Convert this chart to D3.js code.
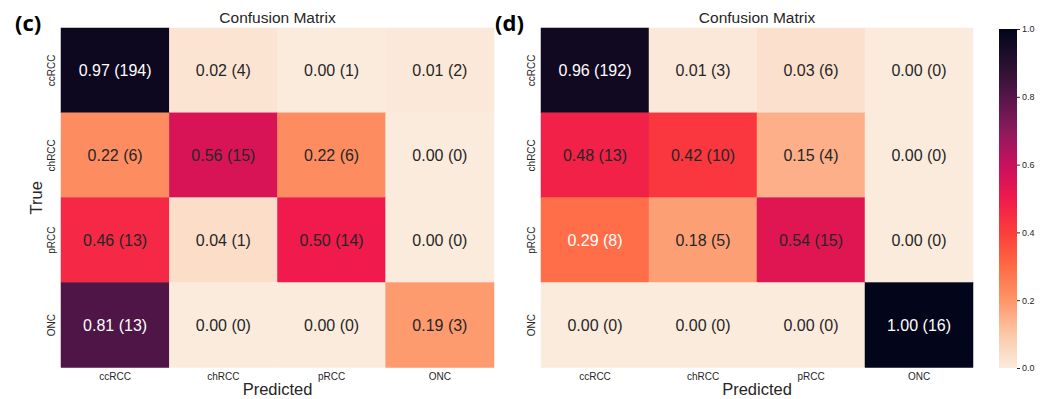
<!DOCTYPE html>
<html>
<head>
<meta charset="utf-8">
<script src="https://cdn.jsdelivr.net/npm/d3@7"></script>
<style>
  body { margin: 0; background: #fff; }
  svg text { font-family: "Liberation Sans", Arial, sans-serif; }
</style>
</head>
<body>
<div id="chart"></div>
<script>
const width = 1047;
const height = 399;
const FONT = "'Liberation Sans', Arial, sans-serif";

const classes = ["ccRCC", "chRCC", "pRCC", "ONC"];

// panel (c)
const ratesC = [
  [0.97, 0.02, 0.00, 0.01],
  [0.22, 0.56, 0.22, 0.00],
  [0.46, 0.04, 0.50, 0.00],
  [0.81, 0.00, 0.00, 0.19]
];
const countsC = [
  [194, 4, 1, 2],
  [6, 15, 6, 0],
  [13, 1, 14, 0],
  [13, 0, 0, 3]
];

// panel (d)
const ratesD = [
  [0.96, 0.01, 0.03, 0.00],
  [0.48, 0.42, 0.15, 0.00],
  [0.29, 0.18, 0.54, 0.00],
  [0.00, 0.00, 0.00, 1.00]
];
const countsD = [
  [192, 3, 6, 0],
  [13, 10, 4, 0],
  [8, 5, 15, 0],
  [0, 0, 0, 16]
];

const colorbarTicks = [0, 0.2, 0.4, 0.6, 0.8, 1.0];

// rocket_r, tuned to the colours seen in the picture
const rocketR = ["#fbebdd", "#fbc8a8", "#fd9568", "#ff6a44", "#fc3d3a", "#f01a4c",
                 "#c8105e", "#8c1a5c", "#541649", "#25102f", "#03051a"];
const color = d3.scaleSequential(d3.piecewise(d3.interpolateRgb, rocketR)).domain([0, 1]);

// the original draws this one light label although the cell is mid-tone
const lightLabels = new Set(["d|pRCC|ccRCC"]);

const svg = d3.select("#chart").append("svg")
  .attr("width", width)
  .attr("height", height);

function drawPanel(key, left, right, label, rates, counts, showYLabel) {
  const top = 28, bottom = 367.5;
  const x = d3.scaleBand().domain(classes).range([left, right]);
  const y = d3.scaleBand().domain(classes).range([top, bottom]);

  const cells = [];
  rates.forEach((row, i) => row.forEach((v, j) => {
    cells.push({ t: classes[i], p: classes[j], v: v, n: counts[i][j] });
  }));

  const g = svg.append("g");

  g.selectAll(".cell")
    .data(cells)
    .enter()
    .append("rect")
    .attr("class", "cell")
    .attr("x", d => x(d.p))
    .attr("y", d => y(d.t))
    .attr("width", x.bandwidth())
    .attr("height", y.bandwidth())
    .style("fill", d => color(d.v))
    .style("stroke", d => color(d.v))
    .style("stroke-width", 0.5);

  g.selectAll(".annot")
    .data(cells)
    .enter()
    .append("text")
    .attr("class", "annot")
    .attr("x", d => x(d.p) + x.bandwidth() / 2)
    .attr("y", d => y(d.t) + y.bandwidth() / 2)
    .attr("dy", "0.35em")
    .style("font-family", FONT)
    .style("text-anchor", "middle")
    .style("font-size", "16px")
    .style("fill", d => (d.v > 0.6 || lightLabels.has(`${key}|${d.t}|${d.p}`)) ? "#ffffff" : "#262626")
    .text(d => `${d.v.toFixed(2)} (${d.n})`);

  const xAxis = g.append("g")
    .attr("transform", `translate(0, ${bottom})`)
    .call(d3.axisBottom(x).tickSize(0).tickPadding(5));
  xAxis.attr("font-family", null);
  xAxis.select(".domain").remove();
  xAxis.selectAll("text").style("font-size", "10px").style("fill", "#262626")
    .style("font-family", FONT);

  const yAxis = g.append("g")
    .attr("transform", `translate(${left}, 0)`)
    .call(d3.axisLeft(y).tickSize(0).tickPadding(5));
  yAxis.attr("font-family", null);
  yAxis.select(".domain").remove();
  yAxis.selectAll("text")
    .attr("transform", "rotate(-90)")
    .attr("x", 0)
    .attr("dx", 0)
    .attr("dy", 0)
    .style("text-anchor", "middle")
    .style("font-size", "10px")
    .style("fill", "#262626")
    .style("font-family", FONT)
    .attr("y", -6);

  g.append("text")
    .attr("x", (left + right) / 2)
    .attr("y", 23)
    .style("font-family", FONT)
    .style("text-anchor", "middle")
    .style("font-size", "15.5px")
    .style("fill", "#262626")
    .text("Confusion Matrix");

  g.append("text")
    .attr("x", (left + right) / 2)
    .attr("y", 395)
    .style("font-family", FONT)
    .style("text-anchor", "middle")
    .style("font-size", "16.5px")
    .style("fill", "#262626")
    .text("Predicted");

  if (showYLabel) {
    g.append("text")
      .attr("transform", `translate(${left - 19}, ${(top + bottom) / 2}) rotate(-90)`)
      .style("font-family", FONT)
      .style("text-anchor", "middle")
      .style("font-size", "16.5px")
      .style("fill", "#262626")
      .text("True");
  }

  g.append("text")
    .attr("x", left - 46)
    .attr("y", 31)
    .style("font-family", "'Open Sans', 'DejaVu Sans', sans-serif")
    .style("font-weight", "bold")
    .style("font-size", "22px")
    .style("fill", "#000")
    .text(label);
}

drawPanel("c", 61, 494, "(c)", ratesC, countsC, true);
drawPanel("d", 541, 973, "(d)", ratesD, countsD, false);

// colorbar
const cbX = 999, cbW = 18, cbTop = 29, cbBottom = 368;
const cbScale = d3.scaleLinear().domain([0, 1]).range([cbBottom, cbTop]);
const defs = svg.append("defs");
const grad = defs.append("linearGradient")
  .attr("id", "cbgrad")
  .attr("x1", 0).attr("y1", 1).attr("x2", 0).attr("y2", 0);
d3.range(0, 1.0001, 0.05).forEach(t => {
  grad.append("stop").attr("offset", t).attr("stop-color", color(t));
});
svg.append("rect")
  .attr("x", cbX)
  .attr("y", cbTop)
  .attr("width", cbW)
  .attr("height", cbBottom - cbTop)
  .style("fill", "url(#cbgrad)");

const cbAxis = svg.append("g")
  .attr("transform", `translate(${cbX + cbW}, 0)`)
  .call(d3.axisRight(cbScale).tickValues(colorbarTicks).tickFormat(d3.format(".1f")).tickSize(3).tickPadding(2));
cbAxis.attr("font-family", null);
cbAxis.select(".domain").remove();
cbAxis.selectAll("line").style("stroke", "#262626");
cbAxis.selectAll("text").style("font-size", "9px").style("fill", "#262626")
  .style("font-family", FONT);
</script>
</body>
</html>
